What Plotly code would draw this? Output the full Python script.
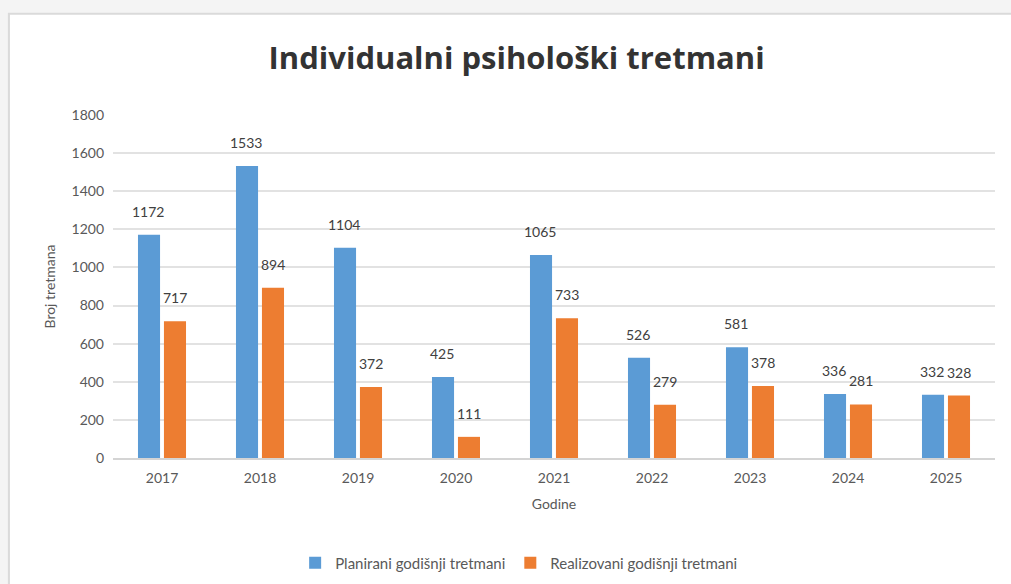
import plotly.graph_objects as go

# data
godine = ["2017", "2018", "2019", "2020", "2021", "2022", "2023", "2024", "2025"]
planirani = [1172, 1533, 1104, 425, 1065, 526, 581, 336, 332]
realizovani = [717, 894, 372, 111, 733, 279, 378, 281, 328]

FONT = "Lato"
GREY = "#595959"

fig = go.Figure(layout=dict(width=1011, height=584))

fig.add_trace(go.Bar(x=godine, y=planirani, name="Planirani godišnji tretmani",
                     marker=dict(color="#5B9BD5", line=dict(width=0))))
fig.add_trace(go.Bar(x=godine, y=realizovani, name="Realizovani godišnji tretmani",
                     marker=dict(color="#ED7D31", line=dict(width=0))))

# value labels above each bar (x given as category index)
annotations = []
for vals, shift in ((planirani, -14), (realizovani, 13)):
    for i, v in enumerate(vals):
        annotations.append(dict(x=i, y=v, text=str(v), showarrow=False,
                                xshift=shift, yshift=13, yanchor="bottom",
                                font=dict(family=FONT, size=14, color="#404040")))

# white chart area with grey border on a light grey page
shapes = [dict(type="rect", xref="paper", yref="paper", x0=-0.118, x1=1.03,
               y0=-0.4, y1=1.295, line=dict(color="#dadada", width=2),
               fillcolor="white", layer="below")]

fig.update_layout(
    title=dict(text="<b>Individualni psihološki tretmani</b>", x=0.511, xanchor="center",
               y=0.9, yanchor="middle", font=dict(family="Open Sans", size=31, color="#333333")),
    paper_bgcolor="#f4f4f4",
    plot_bgcolor="white",
    barmode="group",
    bargap=0.47,
    bargroupgap=0.15,
    margin=dict(l=113, r=16, t=115, b=126),
    font=dict(family=FONT, color=GREY),
    xaxis=dict(type="category", range=[-0.5, len(godine) - 0.5], automargin=False,
               title=dict(text="Godine", font=dict(size=14, color=GREY), standoff=14),
               tickfont=dict(size=14, color=GREY), showgrid=False, ticks="",
               ticklabelstandoff=6,
               showline=True, linecolor="#d4d4d4", linewidth=2),
    yaxis=dict(title=dict(text="Broj tretmana", font=dict(size=14, color=GREY), standoff=12),
               range=[0, 1800], dtick=200, tickfont=dict(size=14, color=GREY), automargin=False,
               gridcolor="#e2e2e2", gridwidth=2, zeroline=False, ticks="",
               ticklabelstandoff=8),
    legend=dict(orientation="h", xref="container", yref="container",
                x=0.513, xanchor="center", y=0.036, yanchor="middle",
                itemwidth=30, font=dict(size=15, color=GREY), bgcolor="rgba(0,0,0,0)"),
    shapes=shapes,
    annotations=annotations,
    showlegend=True,
)

fig.write_html("out.html", config={"displayModeBar": False},
               post_script="document.body.style.margin='0';")
